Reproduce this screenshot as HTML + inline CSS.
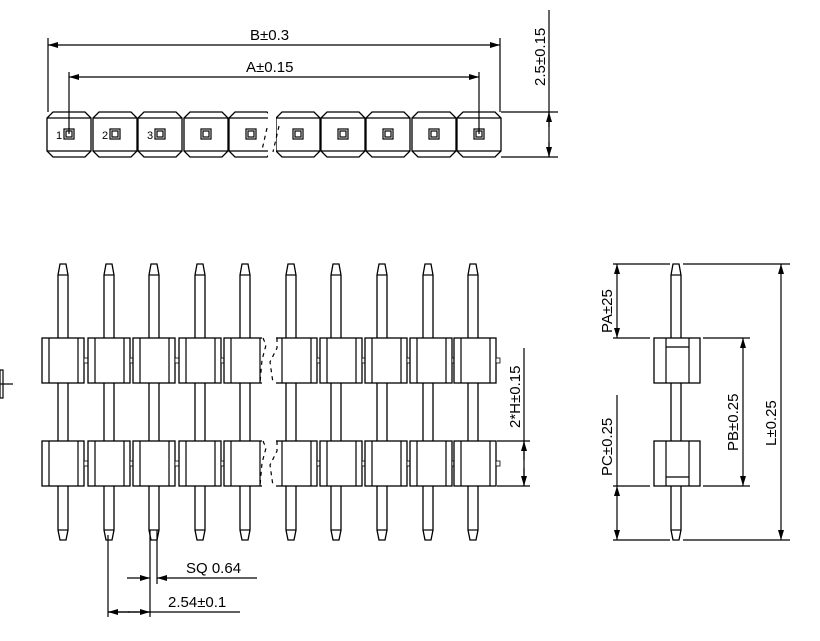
<!DOCTYPE html>
<html><head><meta charset="utf-8"><style>
html,body{margin:0;padding:0;background:#fff;}
svg{display:block;}
text{font-family:"Liberation Sans",sans-serif;font-size:15px;fill:#000;}
</style></head><body>
<svg width="820" height="641" viewBox="0 0 820 641" xmlns="http://www.w3.org/2000/svg">
<defs>
<marker id="ar" viewBox="0 0 10 6" refX="10" refY="3" markerWidth="10" markerHeight="6" orient="auto-start-reverse" markerUnits="userSpaceOnUse"><path d="M0,0 L10,3 L0,6 Z" fill="#000"/></marker>
<g id="cell">
<path d="M-16,112 L16,112 L22,118 L22,151 L16,157 L-16,157 L-22,151 L-22,118 Z" fill="#fff" stroke="#000" stroke-width="1.3"/>
<line x1="-22" y1="118" x2="22" y2="118" stroke="#000"/>
<line x1="-22" y1="151" x2="22" y2="151" stroke="#000"/>
<rect x="-5" y="129" width="10" height="10" fill="none" stroke="#000" stroke-width="1.2"/>
<rect x="-3" y="131" width="6" height="6" fill="none" stroke="#000"/>
</g>
<g id="pin">
<path d="M-3,264 L3,264 L5,275 L5,530 L3,540 L-3,540 L-5,530 L-5,275 Z" fill="#fff" stroke="#000" stroke-width="1.3"/>
<line x1="-5" y1="275" x2="5" y2="275" stroke="#000"/>
<line x1="-5" y1="530" x2="5" y2="530" stroke="#000"/>
</g>
<g id="blk">
<rect x="-21" y="0" width="42" height="45" fill="#fff" stroke="#000" stroke-width="1.3"/>
<line x1="-14" y1="0" x2="-14" y2="45" stroke="#000"/>
<line x1="15" y1="0" x2="15" y2="45" stroke="#000"/>
<rect x="21" y="20" width="4" height="5" fill="#fff" stroke="#000" stroke-width="0.8"/>
</g>
</defs>
<g fill="none" stroke="#000" stroke-width="1.2">
<!-- top view -->
<use href="#cell" x="69"/><use href="#cell" x="115"/><use href="#cell" x="160"/><use href="#cell" x="206"/><use href="#cell" x="251"/>
<use href="#cell" x="298"/><use href="#cell" x="343"/><use href="#cell" x="388"/><use href="#cell" x="434"/><use href="#cell" x="479"/>
<rect x="268" y="110" width="8" height="50" fill="#fff" stroke="none"/>
<path d="M267,128 L262,150 M279,126 L273,152" stroke-dasharray="4,4"/>
<line x1="48" y1="38" x2="48" y2="112"/><line x1="500" y1="38" x2="500" y2="112"/>
<line x1="48" y1="45" x2="500" y2="45" marker-start="url(#ar)" marker-end="url(#ar)"/>
<line x1="69" y1="72" x2="69" y2="134"/><line x1="479" y1="72" x2="479" y2="134"/>
<line x1="69" y1="77" x2="479" y2="77" marker-start="url(#ar)" marker-end="url(#ar)"/>
<line x1="501" y1="112" x2="558" y2="112"/><line x1="501" y1="157" x2="558" y2="157"/>
<line x1="549" y1="10" x2="549" y2="157"/>
<line x1="549" y1="127" x2="549" y2="112" marker-end="url(#ar)"/>
<line x1="549" y1="142" x2="549" y2="157" marker-end="url(#ar)"/>
<!-- front view -->
<use href="#pin" x="63"/><use href="#pin" x="109"/><use href="#pin" x="154"/><use href="#pin" x="200"/><use href="#pin" x="245"/>
<use href="#pin" x="291"/><use href="#pin" x="336"/><use href="#pin" x="382"/><use href="#pin" x="428"/><use href="#pin" x="473"/>
<use href="#blk" x="63" y="338"/><use href="#blk" x="109" y="338"/><use href="#blk" x="154" y="338"/><use href="#blk" x="200" y="338"/><use href="#blk" x="245" y="338"/>
<use href="#blk" x="296" y="338"/><use href="#blk" x="341" y="338"/><use href="#blk" x="386" y="338"/><use href="#blk" x="431" y="338"/><use href="#blk" x="475" y="338"/>
<use href="#blk" x="63" y="441"/><use href="#blk" x="109" y="441"/><use href="#blk" x="154" y="441"/><use href="#blk" x="200" y="441"/><use href="#blk" x="245" y="441"/>
<use href="#blk" x="296" y="441"/><use href="#blk" x="341" y="441"/><use href="#blk" x="386" y="441"/><use href="#blk" x="431" y="441"/><use href="#blk" x="475" y="441"/>
<rect x="262" y="336" width="14" height="49" fill="#fff" stroke="none"/>
<rect x="262" y="439" width="14" height="49" fill="#fff" stroke="none"/>
<path d="M263,338 L266,345 L262,360 L260,383 M277,338 L277,348 L270,362 L273,383" stroke-dasharray="4,4"/>
<path d="M263,441 L266,448 L262,463 L260,486 M277,441 L277,451 L270,465 L273,486" stroke-dasharray="4,4"/>
<rect x="0" y="370" width="3" height="28"/><line x1="0" y1="384" x2="13" y2="384"/>
<line x1="497" y1="441" x2="530" y2="441"/><line x1="497" y1="486" x2="530" y2="486"/>
<line x1="524" y1="348" x2="524" y2="486"/>
<line x1="524" y1="460" x2="524" y2="441" marker-end="url(#ar)"/>
<line x1="524" y1="468" x2="524" y2="486" marker-end="url(#ar)"/>
<!-- bottom dims -->
<line x1="108" y1="535" x2="108" y2="617"/>
<line x1="150" y1="530" x2="150" y2="617"/><line x1="157" y1="530" x2="157" y2="584"/>
<line x1="127" y1="578" x2="150" y2="578" marker-end="url(#ar)"/>
<line x1="257" y1="578" x2="157" y2="578" marker-end="url(#ar)"/>
<line x1="108" y1="612" x2="240" y2="612"/>
<line x1="130" y1="612" x2="108" y2="612" marker-end="url(#ar)"/>
<line x1="128" y1="612" x2="150" y2="612" marker-end="url(#ar)"/>
<!-- side view -->
<use href="#pin" x="676"/>
<rect x="654" y="338" width="46" height="45" fill="#fff" stroke-width="1.3"/>
<line x1="666" y1="338" x2="666" y2="383"/><line x1="689" y1="338" x2="689" y2="383"/><line x1="666" y1="347" x2="689" y2="347"/>
<rect x="654" y="441" width="46" height="45" fill="#fff" stroke-width="1.3"/>
<line x1="666" y1="441" x2="666" y2="486"/><line x1="689" y1="441" x2="689" y2="486"/><line x1="666" y1="477" x2="689" y2="477"/>
<line x1="613" y1="264" x2="670" y2="264"/><line x1="683" y1="264" x2="790" y2="264"/>
<line x1="613" y1="540" x2="670" y2="540"/><line x1="683" y1="540" x2="790" y2="540"/>
<line x1="613" y1="338" x2="650" y2="338"/><line x1="613" y1="486" x2="650" y2="486"/>
<line x1="703" y1="338" x2="750" y2="338"/><line x1="703" y1="486" x2="750" y2="486"/>
<line x1="617" y1="264" x2="617" y2="338" marker-start="url(#ar)" marker-end="url(#ar)"/>
<line x1="617" y1="395" x2="617" y2="486"/>
<line x1="617" y1="486" x2="617" y2="540" marker-start="url(#ar)" marker-end="url(#ar)"/>
<line x1="743" y1="338" x2="743" y2="486" marker-start="url(#ar)" marker-end="url(#ar)"/>
<line x1="781" y1="264" x2="781" y2="540" marker-start="url(#ar)" marker-end="url(#ar)"/>
</g>
<g font-size="8">
<text x="56" y="139" style="font-size:11px">1</text><text x="102" y="139" style="font-size:11px">2</text><text x="147" y="139" style="font-size:11px">3</text>
</g>
<text x="250" y="40">B±0.3</text>
<text x="246" y="72">A±0.15</text>
<text transform="translate(545,86) rotate(-90)">2.5±0.15</text>
<text transform="translate(520,428) rotate(-90)">2*H±0.15</text>
<text x="186" y="573">SQ  0.64</text>
<text x="168" y="607">2.54±0.1</text>
<text transform="translate(612,333) rotate(-90)">PA±25</text>
<text transform="translate(612,476) rotate(-90)">PC±0.25</text>
<text transform="translate(738,451) rotate(-90)">PB±0.25</text>
<text transform="translate(776,446) rotate(-90)">L±0.25</text>
</svg>
</body></html>
